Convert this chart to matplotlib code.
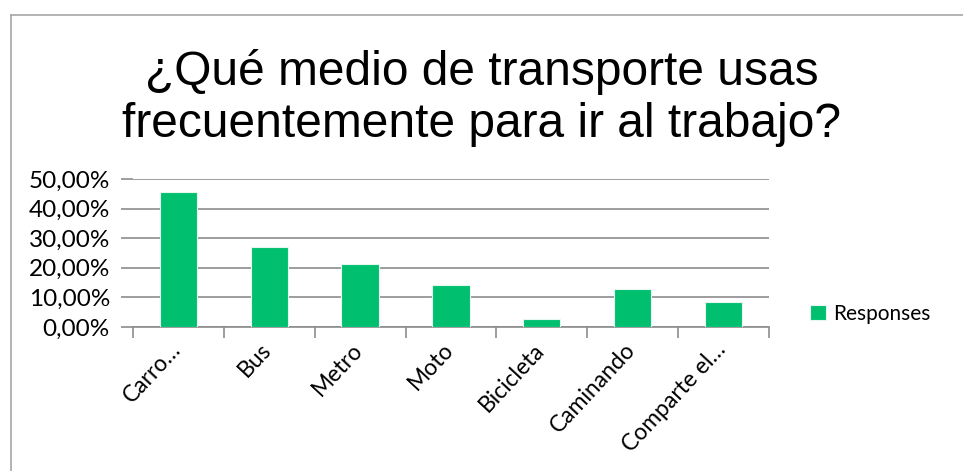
from matplotlib import pyplot as plt
from matplotlib import ticker as tk
from matplotlib import transforms as mtrans
from matplotlib.lines import Line2D
import numpy as np

categories = ["Carro…", "Bus", "Metro", "Moto", "Bicicleta", "Caminando", "Comparte el…"]
responses = [0.457, 0.271, 0.213, 0.142, 0.027, 0.128, 0.084]
title = "¿Qué medio de transporte usas\nfrecuentemente para ir al trabajo?"

green = "#00bf6f"
grid_col = "#8c8c8c"

plt.rcParams['font.family'] = ['Lato', 'DejaVu Sans']
fig = plt.figure(figsize=(9.63, 4.71), dpi=100)
ax = fig.add_axes([0.138, 0.3057, 0.6606, 0.3143])

x = np.arange(len(categories))
ax.bar(x, responses, width=0.41, color=green, edgecolor="#e6f7ef", linewidth=0.8,
       label="Responses", zorder=3)

ax.set_xlim(-0.5, len(categories) - 0.5)
ax.set_ylim(0, 0.5)
ax.yaxis.set_major_locator(tk.MultipleLocator(0.1))
ax.yaxis.set_major_formatter(tk.FuncFormatter(lambda v, p: f"{v*100:.2f}%".replace(".", ",")))
ax.yaxis.grid(True, color=grid_col, linewidth=1.2, zorder=0)

ax.set_xticks(np.arange(-0.5, len(categories)), labels=[])
ax.set_xticks(x, minor=True)
ax.set_xticklabels(categories, minor=True, rotation=47, ha="right", va="top",
                   rotation_mode="anchor", fontsize=16.5)
ax.tick_params(axis="x", which="minor", length=0, pad=8)
ax.tick_params(axis="x", which="major", length=8, color=grid_col, width=1.2)
ax.tick_params(axis="y", length=9, color=grid_col, width=1.2, labelsize=17.5, pad=7.5)

# nudge the category labels a bit to the left, like the original
shift = mtrans.ScaledTranslation(-9/100, -1/100, fig.dpi_scale_trans)
for lab in ax.get_xticklabels(minor=True):
    lab.set_transform(lab.get_transform() + shift)

for s in ["top", "right", "left"]:
    ax.spines[s].set_visible(False)
ax.spines["bottom"].set_color(grid_col)
ax.spines["bottom"].set_linewidth(1.2)

fig.text(0.5, 0.792, title, ha="center", va="center", fontsize=34.5,
         family=["Liberation Sans", "DejaVu Sans"], linespacing=1.22)

ax.legend(loc="center left", bbox_to_anchor=(1.035, 0.09), frameon=False,
          fontsize=15, handlelength=0.75, handleheight=0.75, handletextpad=0.35)

# chart area border
fig.add_artist(Line2D([11/963, 11/963], [0, 1 - 14.5/471], color="#a6a6a6", lw=1.2))
fig.add_artist(Line2D([11/963, 1], [1 - 14.5/471, 1 - 14.5/471], color="#a6a6a6", lw=1.2))

fig.savefig("out.png", dpi=100)
